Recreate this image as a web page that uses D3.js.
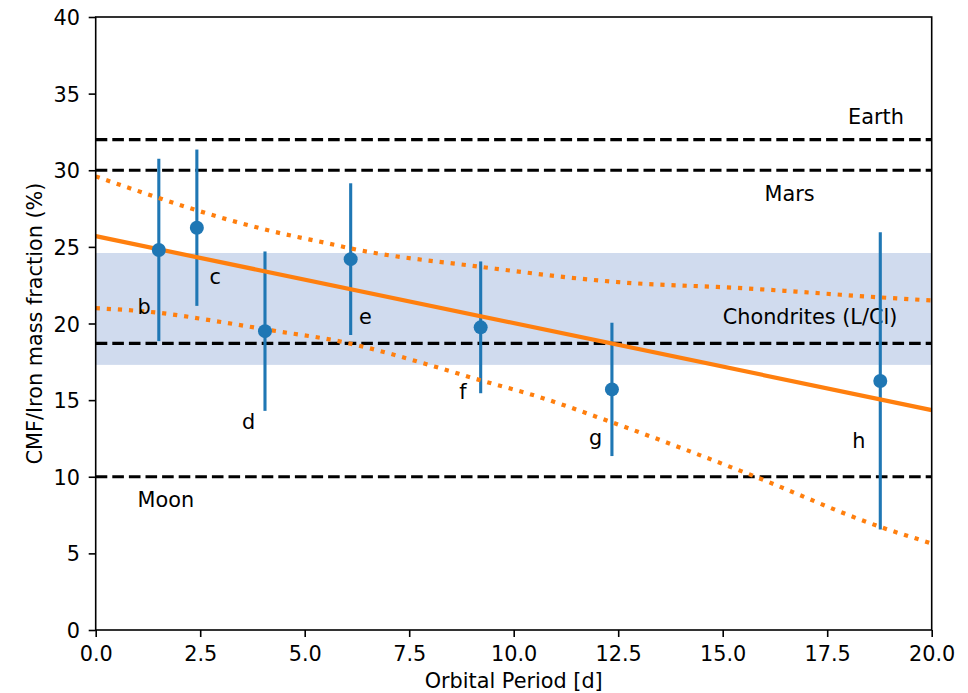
<!DOCTYPE html>
<html>
<head>
<meta charset="utf-8">
<title>CMF vs orbital period</title>
<script src="https://cdn.jsdelivr.net/npm/d3@7"></script>
<style>
  body { margin: 0; background: #fff; }
  text { font-family: "DejaVu Sans", sans-serif; fill: #000; }
</style>
</head>
<body>
<div id="chart"></div>
<script>
// planets and their core mass fraction estimates
var planets = ["b", "c", "d", "e", "f", "g", "h"];
var period  = [1.51, 2.42, 4.05, 6.10, 9.21, 12.35, 18.77];
var cmf     = [24.8, 26.25, 19.5, 24.2, 19.75, 15.7, 16.25];
var cmfErr  = [5.95, 5.1, 5.2, 4.95, 4.3, 4.35, 9.7];
// where the planet letters sit (data units)
var labelX  = [1.0, 2.72, 3.5, 6.3, 8.7, 11.8, 18.1];
var labelY  = [20.6, 22.55, 13.1, 20.0, 15.1, 12.1, 11.85];

// reference bodies
var refNames  = ["Earth", "Mars", "Chondrites (L/Cl)", "Moon"];
var refValues = [32, 30, 18.7, 10];
var refTextX  = [18, 16, 15, 1];
var refTextY  = [33, 28, 20, 8];
var chondriteBand = [17.3, 24.6];

// linear fit and its envelope
var fitX   = [0, 20];
var fitY   = [25.7, 14.35];
var upperX = [0, 1.5, 2.4, 4.1, 5.6, 6.1, 9.2, 12.5, 15.5, 18.8, 20];
var upperY = [29.6, 28.2, 27.4, 26.1, 25.2, 24.9, 23.7, 22.7, 22.3, 21.7, 21.5];
var lowerX = [0, 1.5, 3.0, 4.1, 5.9, 8.1, 9.2, 10.5, 12.3, 15.6, 18.8, 20];
var lowerY = [21.0, 20.7, 20.1, 19.6, 18.8, 17.2, 16.3, 15.3, 13.6, 10.2, 6.7, 5.65];

var xTicks = [0, 2.5, 5, 7.5, 10, 12.5, 15, 17.5, 20];
var yTicks = [0, 5, 10, 15, 20, 25, 30, 35, 40];

var W = 968, H = 693;
var margin = {top: 17, right: 36.3, bottom: 63, left: 95.7};
var w = W - margin.left - margin.right;
var h = H - margin.top - margin.bottom;

var svg = d3.select("#chart").append("svg")
    .attr("width", W)
    .attr("height", H);
var g = svg.append("g")
    .attr("transform", "translate(" + margin.left + "," + margin.top + ")");

var x = d3.scaleLinear().domain([0, 20]).range([0, w]);
var y = d3.scaleLinear().domain([0, 40]).range([h, 0]);

var blue = "#1f77b4", orange = "#ff7f0e";
var fontSize = "20.8px";

// chondrite band
g.append("rect")
    .attr("x", x(0))
    .attr("width", x(20) - x(0))
    .attr("y", y(chondriteBand[1]))
    .attr("height", y(chondriteBand[0]) - y(chondriteBand[1]))
    .attr("fill", "#d0dbee");

// dashed reference lines
g.selectAll(".ref")
    .data(refValues)
    .enter()
    .append("line")
    .attr("x1", x(0))
    .attr("x2", x(20))
    .attr("y1", function (d) { return y(d); })
    .attr("y2", function (d) { return y(d); })
    .attr("stroke", "#000")
    .attr("stroke-width", 3.1)
    .attr("stroke-dasharray", "11.6 5");

g.selectAll(".refText")
    .data(refNames)
    .enter()
    .append("text")
    .attr("x", function (d, i) { return x(refTextX[i]); })
    .attr("y", function (d, i) { return y(refTextY[i]); })
    .style("font-size", fontSize)
    .text(function (d) { return d; });

// error bars
g.selectAll(".err")
    .data(period)
    .enter()
    .append("line")
    .attr("x1", function (d) { return x(d); })
    .attr("x2", function (d) { return x(d); })
    .attr("y1", function (d, i) { return y(cmf[i] - cmfErr[i]); })
    .attr("y2", function (d, i) { return y(cmf[i] + cmfErr[i]); })
    .attr("stroke", blue)
    .attr("stroke-width", 3.1);

// fit and envelope
var line = d3.line()
    .x(function (d) { return x(d[0]); })
    .y(function (d) { return y(d[1]); })
    .curve(d3.curveMonotoneX);

g.append("path")
    .datum(d3.zip(upperX, upperY))
    .attr("d", line)
    .attr("fill", "none")
    .attr("stroke", orange)
    .attr("stroke-width", 4.2)
    .attr("stroke-dasharray", "4.2 6.9");

g.append("path")
    .datum(d3.zip(lowerX, lowerY))
    .attr("d", line)
    .attr("fill", "none")
    .attr("stroke", orange)
    .attr("stroke-width", 4.2)
    .attr("stroke-dasharray", "4.2 6.9");

g.append("path")
    .datum(d3.zip(fitX, fitY))
    .attr("d", line)
    .attr("fill", "none")
    .attr("stroke", orange)
    .attr("stroke-width", 4.2);

// planet markers
g.selectAll(".pt")
    .data(period)
    .enter()
    .append("circle")
    .attr("cx", function (d) { return x(d); })
    .attr("cy", function (d, i) { return y(cmf[i]); })
    .attr("r", 7)
    .attr("fill", blue);

g.selectAll(".lbl")
    .data(planets)
    .enter()
    .append("text")
    .attr("x", function (d, i) { return x(labelX[i]); })
    .attr("y", function (d, i) { return y(labelY[i]); })
    .style("font-size", fontSize)
    .text(function (d) { return d; });

// axes
var xAxis = g.append("g")
    .attr("transform", "translate(0," + h + ")")
    .call(d3.axisBottom(x).tickValues(xTicks).tickFormat(d3.format(".1f")).tickSize(7).tickPadding(9));
var yAxis = g.append("g")
    .call(d3.axisLeft(y).tickValues(yTicks).tickFormat(d3.format("d")).tickSize(7).tickPadding(8.7));

[xAxis, yAxis].forEach(function (a) {
    a.select(".domain").remove();
    a.selectAll("line").attr("stroke", "#000").attr("stroke-width", 1.6);
    a.selectAll("text").style("font-size", fontSize).attr("fill", "#000")
        .style("font-family", "'DejaVu Sans', sans-serif");
});
yAxis.selectAll("text").attr("dy", "0.365em");

// frame
g.append("rect")
    .attr("width", w)
    .attr("height", h)
    .attr("fill", "none")
    .attr("stroke", "#000")
    .attr("stroke-width", 1.6);

// axis titles
svg.append("text")
    .attr("x", margin.left + w / 2)
    .attr("y", 688.3)
    .attr("text-anchor", "middle")
    .style("font-size", fontSize)
    .text("Orbital Period [d]");

svg.append("text")
    .attr("transform", "translate(41.7," + (margin.top + h / 2) + ") rotate(-90)")
    .attr("text-anchor", "middle")
    .style("font-size", fontSize)
    .text("CMF/Iron mass fraction (%)");
</script>
</body>
</html>
